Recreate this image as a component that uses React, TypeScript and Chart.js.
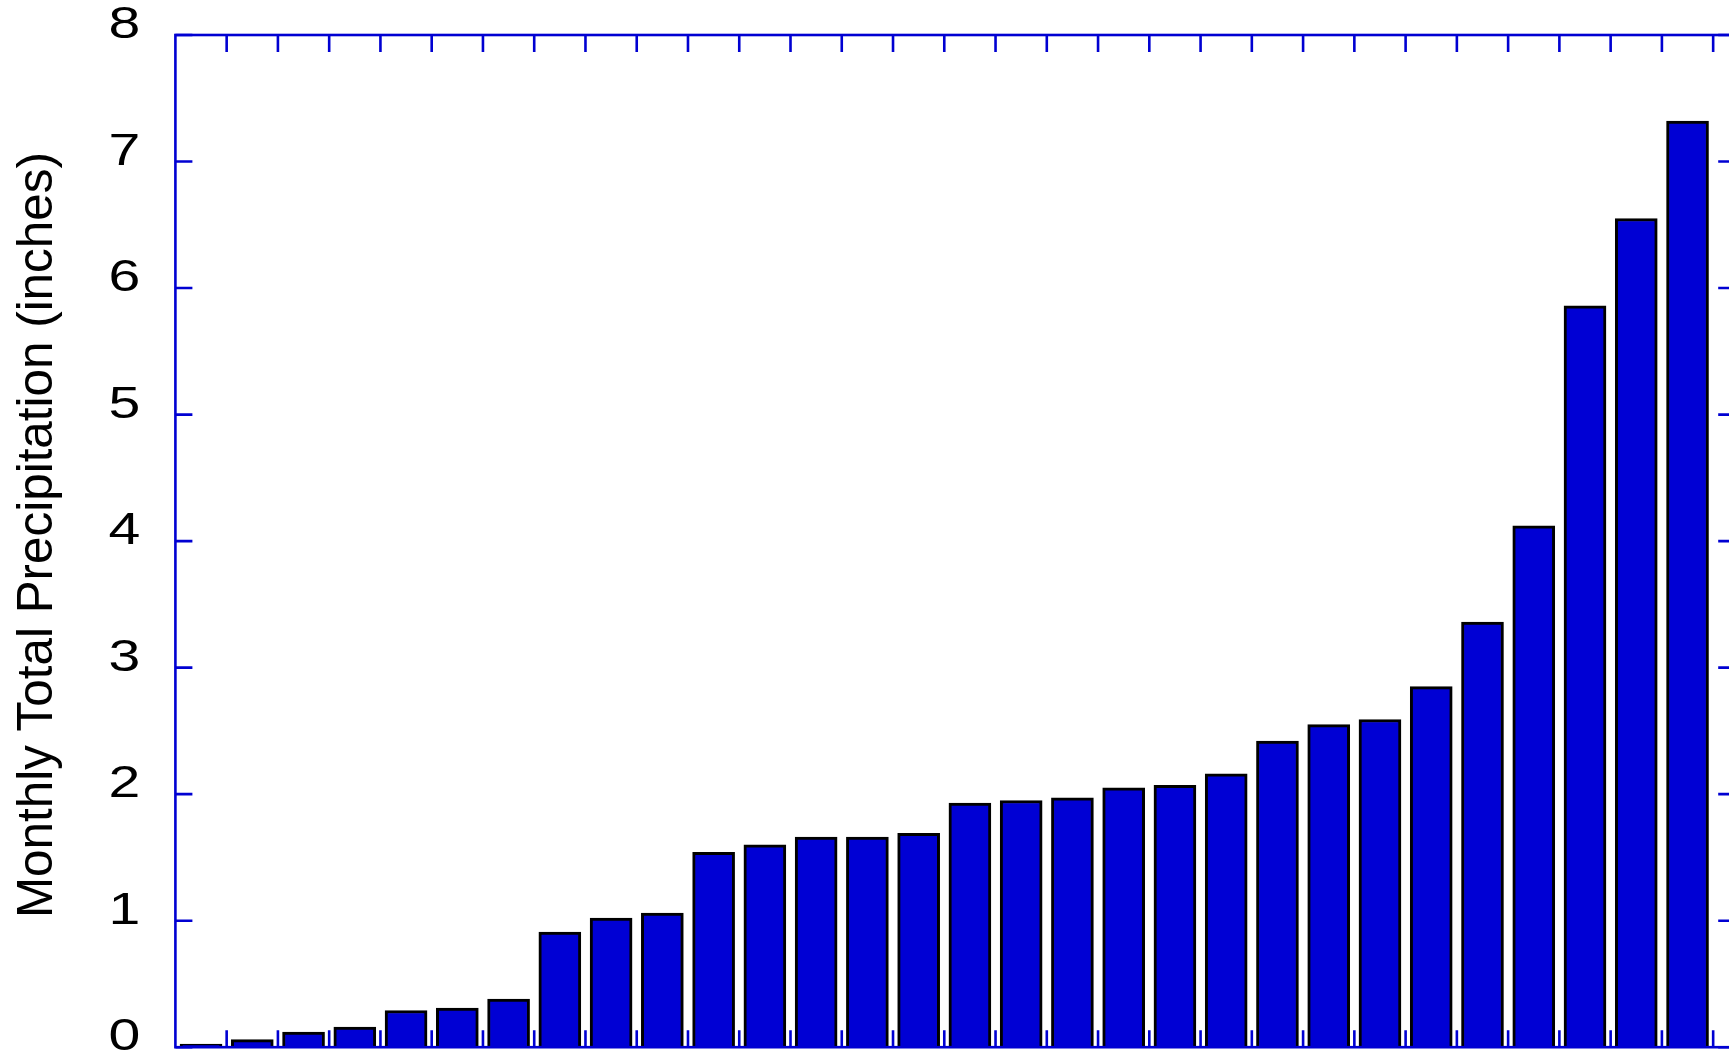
import React, { useEffect, useRef } from "react";
import { Chart, registerables } from "chart.js";

Chart.register(...registerables);

// ---- data ----
const barRank = [
  1, 2, 3, 4, 5, 6, 7, 8, 9, 10, 11, 12, 13, 14, 15, 16, 17, 18, 19, 20, 21,
  22, 23, 24, 25, 26, 27, 28, 29, 30,
];
const precipitation = [
  0, 0.06, 0.12, 0.16, 0.29, 0.31, 0.38, 0.91, 1.02, 1.06, 1.54, 1.6, 1.66,
  1.66, 1.69, 1.93, 1.95, 1.97, 2.05, 2.07, 2.16, 2.42, 2.55, 2.59, 2.85, 3.36,
  4.12, 5.86, 6.55, 7.32,
];
const yTickValues = [0, 1, 2, 3, 4, 5, 6, 7, 8];
const yTitle = "Monthly Total Precipitation (inches)";
const xMin = 0;
const xMax = 30.43;

// ---- styles ----
const BAR_FILL = "rgb(0,0,212)";
const AXIS_BLUE = "rgb(0,0,210)";
const FONT = "'Liberation Sans', Arial, Helvetica, sans-serif";
const CANVAS_W = 1750;
const CANVAS_H = 1055;
const TICK_LEN = 17;

const framePlugin = {
  id: "frameTicks",
  afterDraw(chart: any) {
    const { ctx, chartArea: a, scales } = chart;
    const xs = scales.x;
    const ys = scales.y;
    ctx.save();
    ctx.strokeStyle = AXIS_BLUE;
    ctx.lineWidth = 2.6;
    ctx.strokeRect(a.left, a.top, a.right - a.left, a.bottom - a.top);
    ctx.beginPath();
    ys.ticks.forEach((t: any) => {
      const py = ys.getPixelForValue(t.value);
      ctx.moveTo(a.left, py);
      ctx.lineTo(a.left + TICK_LEN, py);
      ctx.moveTo(a.right - TICK_LEN, py);
      ctx.lineTo(a.right, py);
    });
    xs.ticks.forEach((t: any) => {
      const px = xs.getPixelForValue(t.value);
      ctx.moveTo(px, a.bottom);
      ctx.lineTo(px, a.bottom - TICK_LEN);
      ctx.moveTo(px, a.top);
      ctx.lineTo(px, a.top + TICK_LEN);
    });
    ctx.stroke();

    // y tick labels (slightly wide digits, as in the reference)
    ctx.fillStyle = "#000000";
    ctx.font = `44px ${FONT}`;
    ctx.textAlign = "right";
    ctx.textBaseline = "middle";
    ys.ticks.forEach((t: any) => {
      const py = ys.getPixelForValue(t.value);
      ctx.save();
      ctx.translate(a.left - 35, py - 9);
      ctx.scale(1.3, 1);
      ctx.fillText(String(t.value), 0, 0);
      ctx.restore();
    });

    // y axis title
    ctx.save();
    ctx.font = `49.4px ${FONT}`;
    ctx.textAlign = "center";
    ctx.textBaseline = "middle";
    ctx.translate(38.5, (a.top + a.bottom) / 2 - 6);
    ctx.rotate(-Math.PI / 2);
    ctx.fillText(yTitle, 0, 0);
    ctx.restore();

    ctx.restore();
  },
};

export default function App() {
  const canvasRef = useRef<HTMLCanvasElement | null>(null);

  useEffect(() => {
    const canvas = canvasRef.current;
    if (!canvas) return;
    const chart = new Chart(canvas, {
      type: "bar",
      data: {
        datasets: [
          {
            label: "Precipitation",
            data: barRank.map((r, i) => ({ x: r - 0.5, y: precipitation[i] })),
            backgroundColor: BAR_FILL,
            borderColor: "#000000",
            borderWidth: 3,
            barThickness: 42,
            minBarLength: 3,
          },
        ],
      },
      options: {
        animation: false,
        responsive: false,
        devicePixelRatio: 1,
        layout: {
          padding: { left: 0, top: 35, right: CANVAS_W - 1735.2, bottom: CANVAS_H - 1047.2 },
        },
        plugins: {
          legend: { display: false },
          tooltip: { enabled: false },
        },
        scales: {
          x: {
            type: "linear",
            display: false,
            offset: false,
            min: xMin,
            max: xMax,
            afterBuildTicks: (scale: any) => {
              scale.ticks = barRank.map((v) => ({ value: v }));
            },
          },
          y: {
            type: "linear",
            min: 0,
            max: 8,
            grid: { display: false, drawTicks: false },
            border: { display: false },
            afterBuildTicks: (scale: any) => {
              scale.ticks = yTickValues.map((v) => ({ value: v }));
            },
            ticks: { display: false },
            title: { display: false, text: yTitle },
            afterFit: (scale: any) => {
              scale.width = 175.4;
              scale.paddingTop = 0;
              scale.paddingBottom = 0;
              scale.paddingLeft = 0;
              scale.paddingRight = 0;
            },
          },
        },
      },
      plugins: [framePlugin],
    });
    return () => chart.destroy();
  }, []);

  return (
    <div
      style={{
        position: "absolute",
        left: 0,
        top: 0,
        width: 1729,
        height: CANVAS_H,
        overflow: "hidden",
        background: "#ffffff",
      }}
    >
      <canvas
        ref={canvasRef}
        width={CANVAS_W}
        height={CANVAS_H}
        style={{ display: "block", width: CANVAS_W, height: CANVAS_H }}
      />
    </div>
  );
}
